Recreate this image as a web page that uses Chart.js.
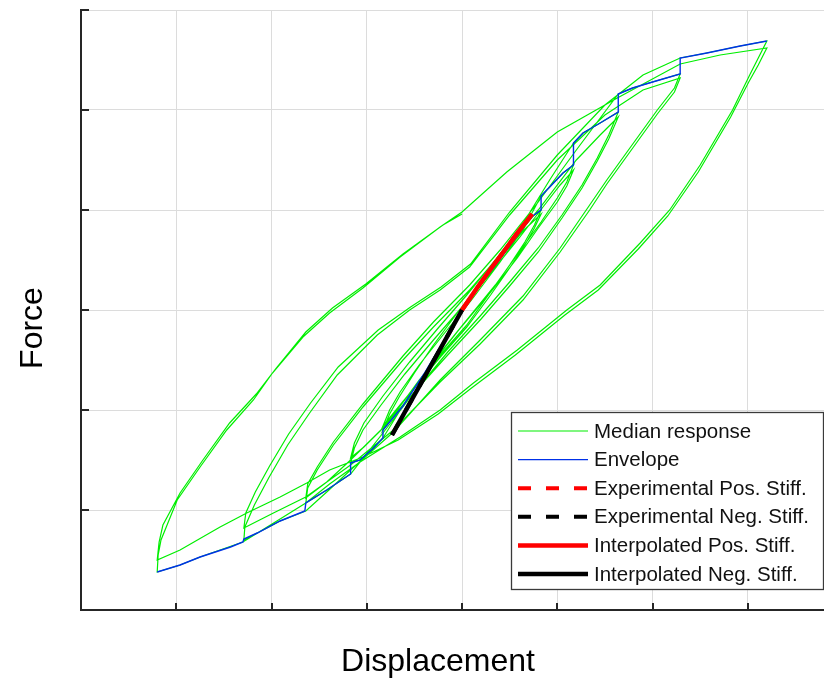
<!DOCTYPE html>
<html>
<head>
<meta charset="utf-8">
<script src="https://cdn.jsdelivr.net/npm/chart.js@4.4.1/dist/chart.umd.min.js"></script>
<style>
  html, body { margin: 0; padding: 0; background: #fff; }
  canvas { display: block; }
</style>
</head>
<body>
<canvas id="hysteresis" width="824" height="678"></canvas>
<script>
// cyclic test, two cycles per amplitude level (displacement in mm, force in kN)
const level1Disp  = [0, 2, 4, 6, 7.3, 8.3, 7.6, 6.6, 5, 3, 0.5, -2, -4.5, -6.5, -8.3, -7.6, -6.6, -5, -3, -0.5, 2, 4.5, 6.5, 8.3, 7.6, 6.6, 5, 3, 0.5, -2, -4.5, -6.5, -8.3];
const level1Force = [0, 26, 51, 77, 93, 100, 85, 68, 45, 18, -15, -42, -70, -96, -120, -104, -87, -63, -35, -3, 28, 58, 80, 96, 82, 65, 42, 15, -17, -44, -72, -95, -116];

const level2Disp  = [-7.6, -6.5, -4.5, -2, 1, 4, 6.5, 8.3, 9.2, 10.6, 11.7, 11, 10, 8.3, 6, 3.5, 0.5, -2.5, -5.5, -8.3, -9.3, -10.7, -11.7, -11.3, -10.4, -8.5, -6, -3, 0, 3, 6, 8.5, 10.3, 11.7, 11, 10, 8, 5.8, 3, 0, -3, -6, -8.5, -10.3, -11.7];
const level2Force = [-100, -82, -55, -25, 10, 48, 82, 114, 123, 137, 145, 128, 112, 88, 58, 25, -10, -45, -85, -128, -138, -150, -153, -138, -120, -95, -64, -30, 3, 37, 72, 103, 125, 140, 124, 108, 82, 52, 18, -16, -52, -90, -120, -137, -148];

const level3Disp  = [-11.3, -10.3, -8.3, -5.5, -2.5, 0.5, 3.5, 6.5, 9.2, 11.7, 12.7, 14.5, 16.4, 15.4, 14.2, 12.6, 10.5, 8, 5, 2, -1.5, -5, -8.3, -11.7, -14.2, -16.4, -16.2, -15.2, -13.5, -10.4, -6.2, -3, 0.8, 4, 8, 12, 14.5, 16.4, 15.4, 14.2, 12.6, 10.5, 8, 5, 2, -1.5, -5, -8.3, -11.7, -14.2, -16.4];
const level3Force = [-133, -113, -86, -52, -18, 15, 50, 88, 130, 167, 177, 187, 198, 175, 152, 125, 95, 62, 28, -5, -42, -82, -123, -164, -180, -193, -178, -160, -135, -97, -50, -17, 20, 55, 100, 150, 175, 193, 171, 149, 122, 92, 58, 24, -9, -45, -82, -118, -150, -172, -188];

const level4Disp  = [-16.2, -15.2, -13.5, -10.4, -6.2, -3, 0.8, 4, 8, 12, 16.4, 17.9, 20, 22.9, 22.3, 20.5, 18, 15.2, 13.4, 10.3, 6.4, 1.9, -2.3, -7.2, -11.7, -14.2, -16.4, -19.1, -21.5, -22.9, -22.8, -21.8, -20.3, -18.3, -16, -13.1, -8.9, -5.5, -2.3, 0.8, 5, 10, 15, 19, 22.9, 22.3, 20.5, 18, 15.2, 13.4, 10.3, 6.4, 1.9, -2.3, -7.2, -11.7, -16.4, -19.8, -22.9];
const level4Force = [-174, -157, -132, -94, -46, -12, 25, 60, 108, 160, 216, 222, 228, 236, 222, 200, 167, 130, 105, 62, 14, -30, -70, -122, -160, -182, -201, -211, -223, -230, -217, -195, -168, -135, -103, -65, -25, 0, 20, 43, 95, 150, 195, 220, 232, 218, 196, 163, 126, 100, 58, 10, -34, -72, -120, -155, -187, -203, -218];

const level5Disp  = [-22.7, -21.7, -20.2, -18.2, -15.9, -13, -8.8, -5.4, -2.2, 0.9, 5, 10, 15, 19, 22.9, 25.7, 29.2, 32,
  31.1, 30.2, 28.4, 25, 21.8, 18.7, 14.5, 11, 5.8, 1.2, -2.3, -6.5, -10.7, -13.9, -16.4, -19.1, -23, -27.5, -29.6, -32,
  -31.9, -31.6, -29.9, -27.5, -24.7, -21.9, -19.9, -16.7, -13.9, -10.4, -6.5, -2.3, 0, 4.7, 10, 16.3, 22.9, 27.1, 32,
  31.1, 30.1, 28.2, 24.8, 21.6, 18.5, 14.3, 10.8, 5.6, 1, -2.5, -6.7, -10.4, -13.9, -16.3, -19.1, -22.6, -25.4, -29.6, -32,
  -31.8, -31.4, -29.6, -27.2, -24.4, -21.6, -19.5, -16.4, -13.6, -10.1, -6.2, -2, 0];
const level5Force = [-203, -182, -156, -124, -93, -57, -20, 3, 23, 46, 98, 155, 205, 235, 252, 257, 264, 269,
  252, 235, 200, 145, 100, 67, 25, 0, -40, -73, -100, -127, -152, -174, -193, -209, -232, -247, -255, -262,
  -245, -230, -190, -157, -120, -90, -63, -27, -3, 22, 53, 83, 98, 138, 178, 212, 246, 255, 262,
  245, 228, 193, 138, 94, 61, 20, -5, -45, -78, -104, -130, -147, -160, -173, -187, -203, -217, -240, -250,
  -232, -215, -183, -150, -113, -84, -58, -22, 2, 26, 56, 85, 96];

// backbone (peak-oriented envelope)
const envDisp  = [-32, -29.6, -27.5, -24.3, -23, -22.9, -21.5, -19.1, -16.5, -16.4, -14.2, -11.7, -11.7, -10.7, -9.3, -8.3, -8.3, -6.2, -4, -2, 0, 2, 4, 6, 7.3, 8.3, 8.3, 9.2, 10.6, 11.7, 11.7, 12.7, 14.5, 16.4, 16.4, 17.9, 20, 22.9, 22.9, 25.7, 29.2, 32];
const envForce = [-262, -255, -247, -237, -232, -229, -223, -211, -201, -193, -180, -164, -153, -150, -138, -128, -120, -96, -64, -32, 0, 26, 51, 77, 93, 100, 114, 123, 137, 145, 167, 177, 187, 198, 216, 222, 228, 236, 252, 257, 264, 269];

// initial stiffness branches
const posStiffDisp  = [0, 1.5, 3, 4.5, 5.5, 6.3, 6.9, 7.35];
const posStiffForce = [0, 21, 41, 60, 73, 83, 90, 96];
const negStiffDisp  = [-7.35, -3.7, 0];
const negStiffForce = [-125, -63, 0];

const gridX = [-40, -30, -20, -10, 0, 10, 20, 30];
const gridY = [-300, -200, -100, 0, 100, 200, 300];
const tickX = [-30, -20, -10, 0, 10, 20, 30];
const tickY = [-200, -100, 0, 100, 200, 300];

const pts = (xs, ys) => xs.map((x, i) => ({ x: x, y: ys[i] }));

const median = [].concat(
    pts(level1Disp, level1Force),
    pts(level2Disp, level2Force),
    pts(level3Disp, level3Force),
    pts(level4Disp, level4Force),
    pts(level5Disp, level5Force)
);

const lineSet = (label, data, color, width, dash, order) => ({
    label: label,
    data: data,
    showLine: true,
    borderColor: color,
    backgroundColor: color,
    borderWidth: width,
    borderDash: dash,
    pointRadius: 0,
    tension: 0,
    fill: false,
    order: order,
});

const datasets = [
    lineSet("Median response", median, "#00ee00", 1.2, [], 6),
    lineSet("Envelope", pts(envDisp, envForce), "#0030e8", 1.4, [], 5),
    lineSet("Experimental Pos. Stiff.", pts(posStiffDisp, posStiffForce), "#ff0000", 4, [13, 15], 4),
    lineSet("Experimental Neg. Stiff.", pts(negStiffDisp, negStiffForce), "#000000", 4, [13, 15], 3),
    lineSet("Interpolated Pos. Stiff.", pts(posStiffDisp, posStiffForce), "#ff0000", 4.5, [], 2),
    lineSet("Interpolated Neg. Stiff.", pts(negStiffDisp, negStiffForce), "#000000", 4.5, [], 1),
];

const decor = {
    id: "decor",
    afterDraw(chart) {
        const { ctx, chartArea: a, scales: { x, y } } = chart;
        ctx.save();

        // tick marks point into the plot
        ctx.strokeStyle = "#262626";
        ctx.lineWidth = 2;
        tickX.forEach((v) => {
            const px = Math.round(x.getPixelForValue(v));
            ctx.beginPath();
            ctx.moveTo(px, a.bottom);
            ctx.lineTo(px, a.bottom - 7);
            ctx.stroke();
        });
        tickY.forEach((v) => {
            const py = Math.round(y.getPixelForValue(v));
            ctx.beginPath();
            ctx.moveTo(a.left, py);
            ctx.lineTo(a.left + 8, py);
            ctx.stroke();
        });

        // axis titles
        ctx.fillStyle = "#000";
        ctx.font = '32px "Liberation Sans", Arial, sans-serif';
        ctx.textAlign = "center";
        ctx.textBaseline = "alphabetic";
        ctx.fillText("Displacement", 438, 671);
        ctx.save();
        ctx.translate(42, 328);
        ctx.rotate(-Math.PI / 2);
        ctx.fillText("Force", 0, 0);
        ctx.restore();

        // legend box
        const bx = 511.5, by = 412.5, bw = 312, bh = 177;
        ctx.fillStyle = "#fff";
        ctx.fillRect(bx, by, bw, bh);
        ctx.strokeStyle = "#3a3a3a";
        ctx.lineWidth = 1.3;
        ctx.strokeRect(bx, by, bw, bh);

        ctx.font = '20.5px "Liberation Sans", Arial, sans-serif';
        ctx.textAlign = "left";
        ctx.textBaseline = "middle";
        chart.data.datasets.forEach((ds, i) => {
            const ly = 431 + i * 28.6;
            ctx.strokeStyle = ds.borderColor;
            ctx.lineWidth = ds.borderWidth;
            ctx.setLineDash(ds.borderDash);
            ctx.beginPath();
            ctx.moveTo(518, ly);
            ctx.lineTo(588, ly);
            ctx.stroke();
            ctx.setLineDash([]);
            ctx.fillStyle = "#111";
            ctx.fillText(ds.label, 594, ly + 1);
        });
        ctx.restore();
    },
};

const axisOpts = (min, max, grid) => ({
    type: "linear",
    min: min,
    max: max,
    afterBuildTicks: (scale) => {
        scale.ticks = grid.map((v) => ({ value: v }));
    },
    ticks: { display: false },
    grid: {
        color: "#dcdcdc",
        lineWidth: 1,
        drawTicks: false,
    },
    border: {
        display: true,
        color: "#262626",
        width: 2,
    },
});

new Chart(document.getElementById("hysteresis"), {
    type: "scatter",
    data: { datasets: datasets },
    options: {
        responsive: false,
        animation: false,
        devicePixelRatio: 1,
        layout: {
            padding: { left: 81, top: 10, right: 0, bottom: 68 },
        },
        plugins: {
            legend: { display: false },
            tooltip: { enabled: false },
        },
        scales: {
            x: axisOpts(-40, 38, gridX),
            y: axisOpts(-300, 300, gridY),
        },
    },
    plugins: [decor],
});
</script>
</body>
</html>
